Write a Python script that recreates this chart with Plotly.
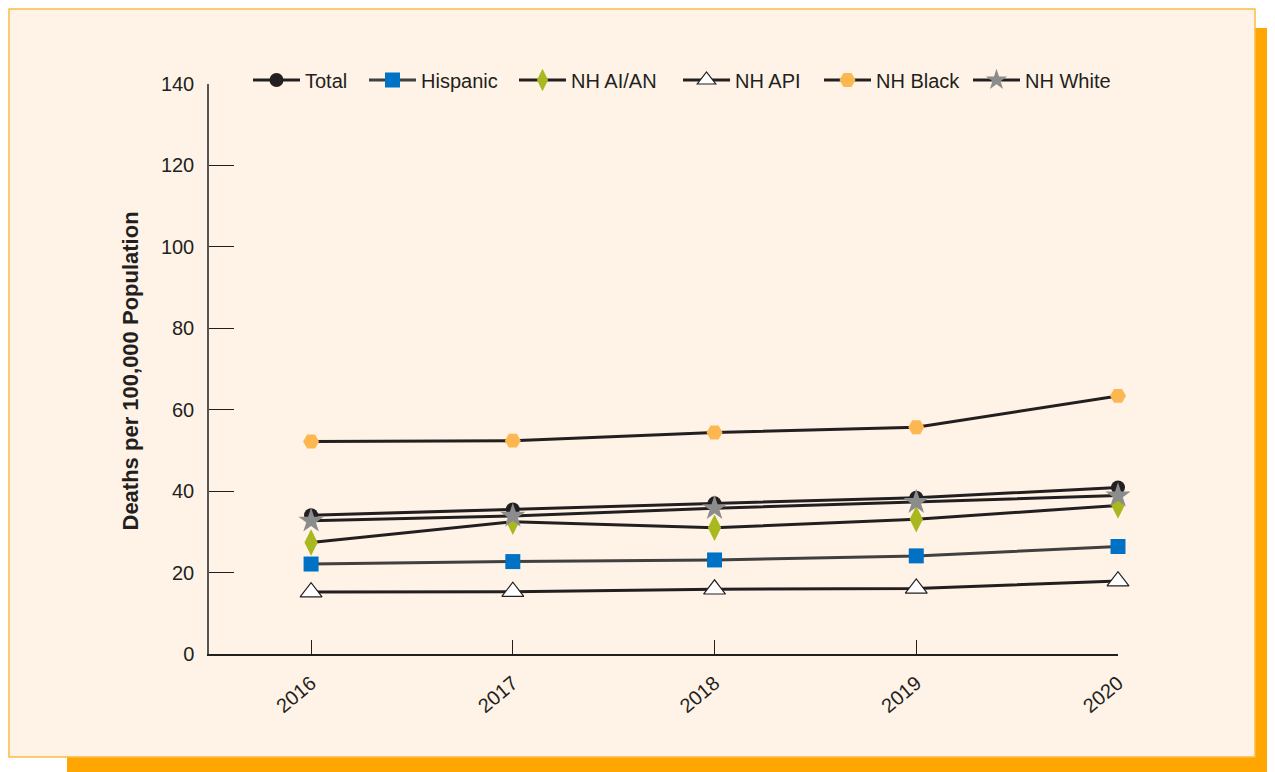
import plotly.graph_objects as go

years = [2016, 2017, 2018, 2019, 2020]
total = [34.1, 35.5, 37.0, 38.4, 40.9]
hispanic = [22.1, 22.7, 23.1, 24.1, 26.4]
nh_aian = [27.4, 32.5, 31.0, 33.1, 36.5]
nh_api = [15.2, 15.3, 15.9, 16.1, 17.9]
nh_black = [52.2, 52.4, 54.4, 55.7, 63.4]
nh_white = [32.7, 33.9, 35.8, 37.3, 38.9]

series_names = ["Total", "Hispanic", "NH AI/AN", "NH API", "NH Black", "NH White"]
series_vals = [total, hispanic, nh_aian, nh_api, nh_black, nh_white]
y_ticks = [0, 20, 40, 60, 80, 100, 120, 140]

styles = [
    dict(symbol="circle", color="#231F20", size=14, line=dict(width=0), lc="#231F20"),
    dict(symbol="square", color="#0072C6", size=15, line=dict(width=0), lc="#404040"),
    dict(symbol="diamond-tall", color="#A9B81E", size=19, line=dict(width=0), lc="#231F20"),
    dict(symbol="triangle-up", color="#FFFFFF", size=19, line=dict(width=1.2, color="#231F20"), lc="#231F20"),
    dict(symbol="hexagon2", color="#FDB750", size=16, line=dict(width=0), lc="#231F20"),
    dict(symbol="star", color="#8C8C8C", size=19, line=dict(width=0), lc="#231F20"),
]

font_family = "Liberation Sans, Arial, sans-serif"

# page is offset by the 8px body margin, so work in figure coordinates
W, H = 1267, 764
PL, PR, PT, PB = 201, 1110, 76, 646
PW, PH = PR - PL, PB - PT


def fx(px):
    return (px - PL) / PW


def fy(py):
    return (PB - py) / PH


legend_x = [240, 356, 506, 670, 811, 960]

fig = go.Figure()
legends = {}
for i, (name, vals, st) in enumerate(zip(series_names, series_vals, styles)):
    lname = "legend" if i == 0 else f"legend{i + 1}"
    fig.add_trace(go.Scatter(
        x=years, y=vals, name=name, mode="lines+markers",
        line=dict(color=st["lc"], width=3),
        marker=dict(symbol=st["symbol"], color=st["color"], size=st["size"], line=st["line"]),
        cliponaxis=False, legend=lname,
    ))
    legends[lname] = dict(
        orientation="h", x=fx(legend_x[i]), xanchor="left", y=fy(72), yanchor="middle",
        font=dict(size=20, color="#231F20"), bgcolor="rgba(0,0,0,0)",
        itemwidth=47, tracegroupgap=0,
    )

fig.update_layout(
    width=W, height=H,
    margin=dict(l=PL, r=W - PR, t=PT, b=H - PB, autoexpand=False),
    paper_bgcolor="#FFFFFF",
    plot_bgcolor="rgba(0,0,0,0)",
    font=dict(family=font_family, color="#231F20", size=20),
    showlegend=True,
    shapes=[
        dict(type="rect", xref="paper", yref="paper",
             x0=fx(59), x1=fx(1267), y0=fy(764), y1=fy(20),
             fillcolor="#FFA602", line=dict(width=0), layer="below"),
        dict(type="rect", xref="paper", yref="paper",
             x0=fx(1), x1=fx(1247), y0=fy(749), y1=fy(1),
             fillcolor="#FFF3E7", line=dict(width=1.5, color="#FDBA45"), layer="below"),
    ],
    annotations=[
        dict(text="<b>Deaths per 100,000 Population</b>", xref="paper", yref="paper",
             x=fx(122), y=fy(363.5), xanchor="center", yanchor="middle",
             textangle=-90, showarrow=False, font=dict(size=22, color="#231F20")),
    ],
    **legends,
)

fig.update_xaxes(
    range=[2015.494, 2020], tickvals=years, ticktext=[str(y) for y in years],
    showgrid=False, zeroline=False, showline=True, linecolor="#231F20", linewidth=1.5,
    ticks="inside", ticklen=14, tickcolor="#231F20", tickwidth=1.2,
    tickangle=-40, tickfont=dict(size=20), ticklabelstandoff=8,
)
fig.update_yaxes(
    range=[0, 140], tickvals=y_ticks, showgrid=False, zeroline=False,
    showline=True, linecolor="#555555", linewidth=1.5,
    ticks="inside", ticklen=25, tickcolor="#231F20", tickwidth=1.2,
    tickfont=dict(size=20), ticklabelstandoff=9,
)

fig.write_html("out.html")
